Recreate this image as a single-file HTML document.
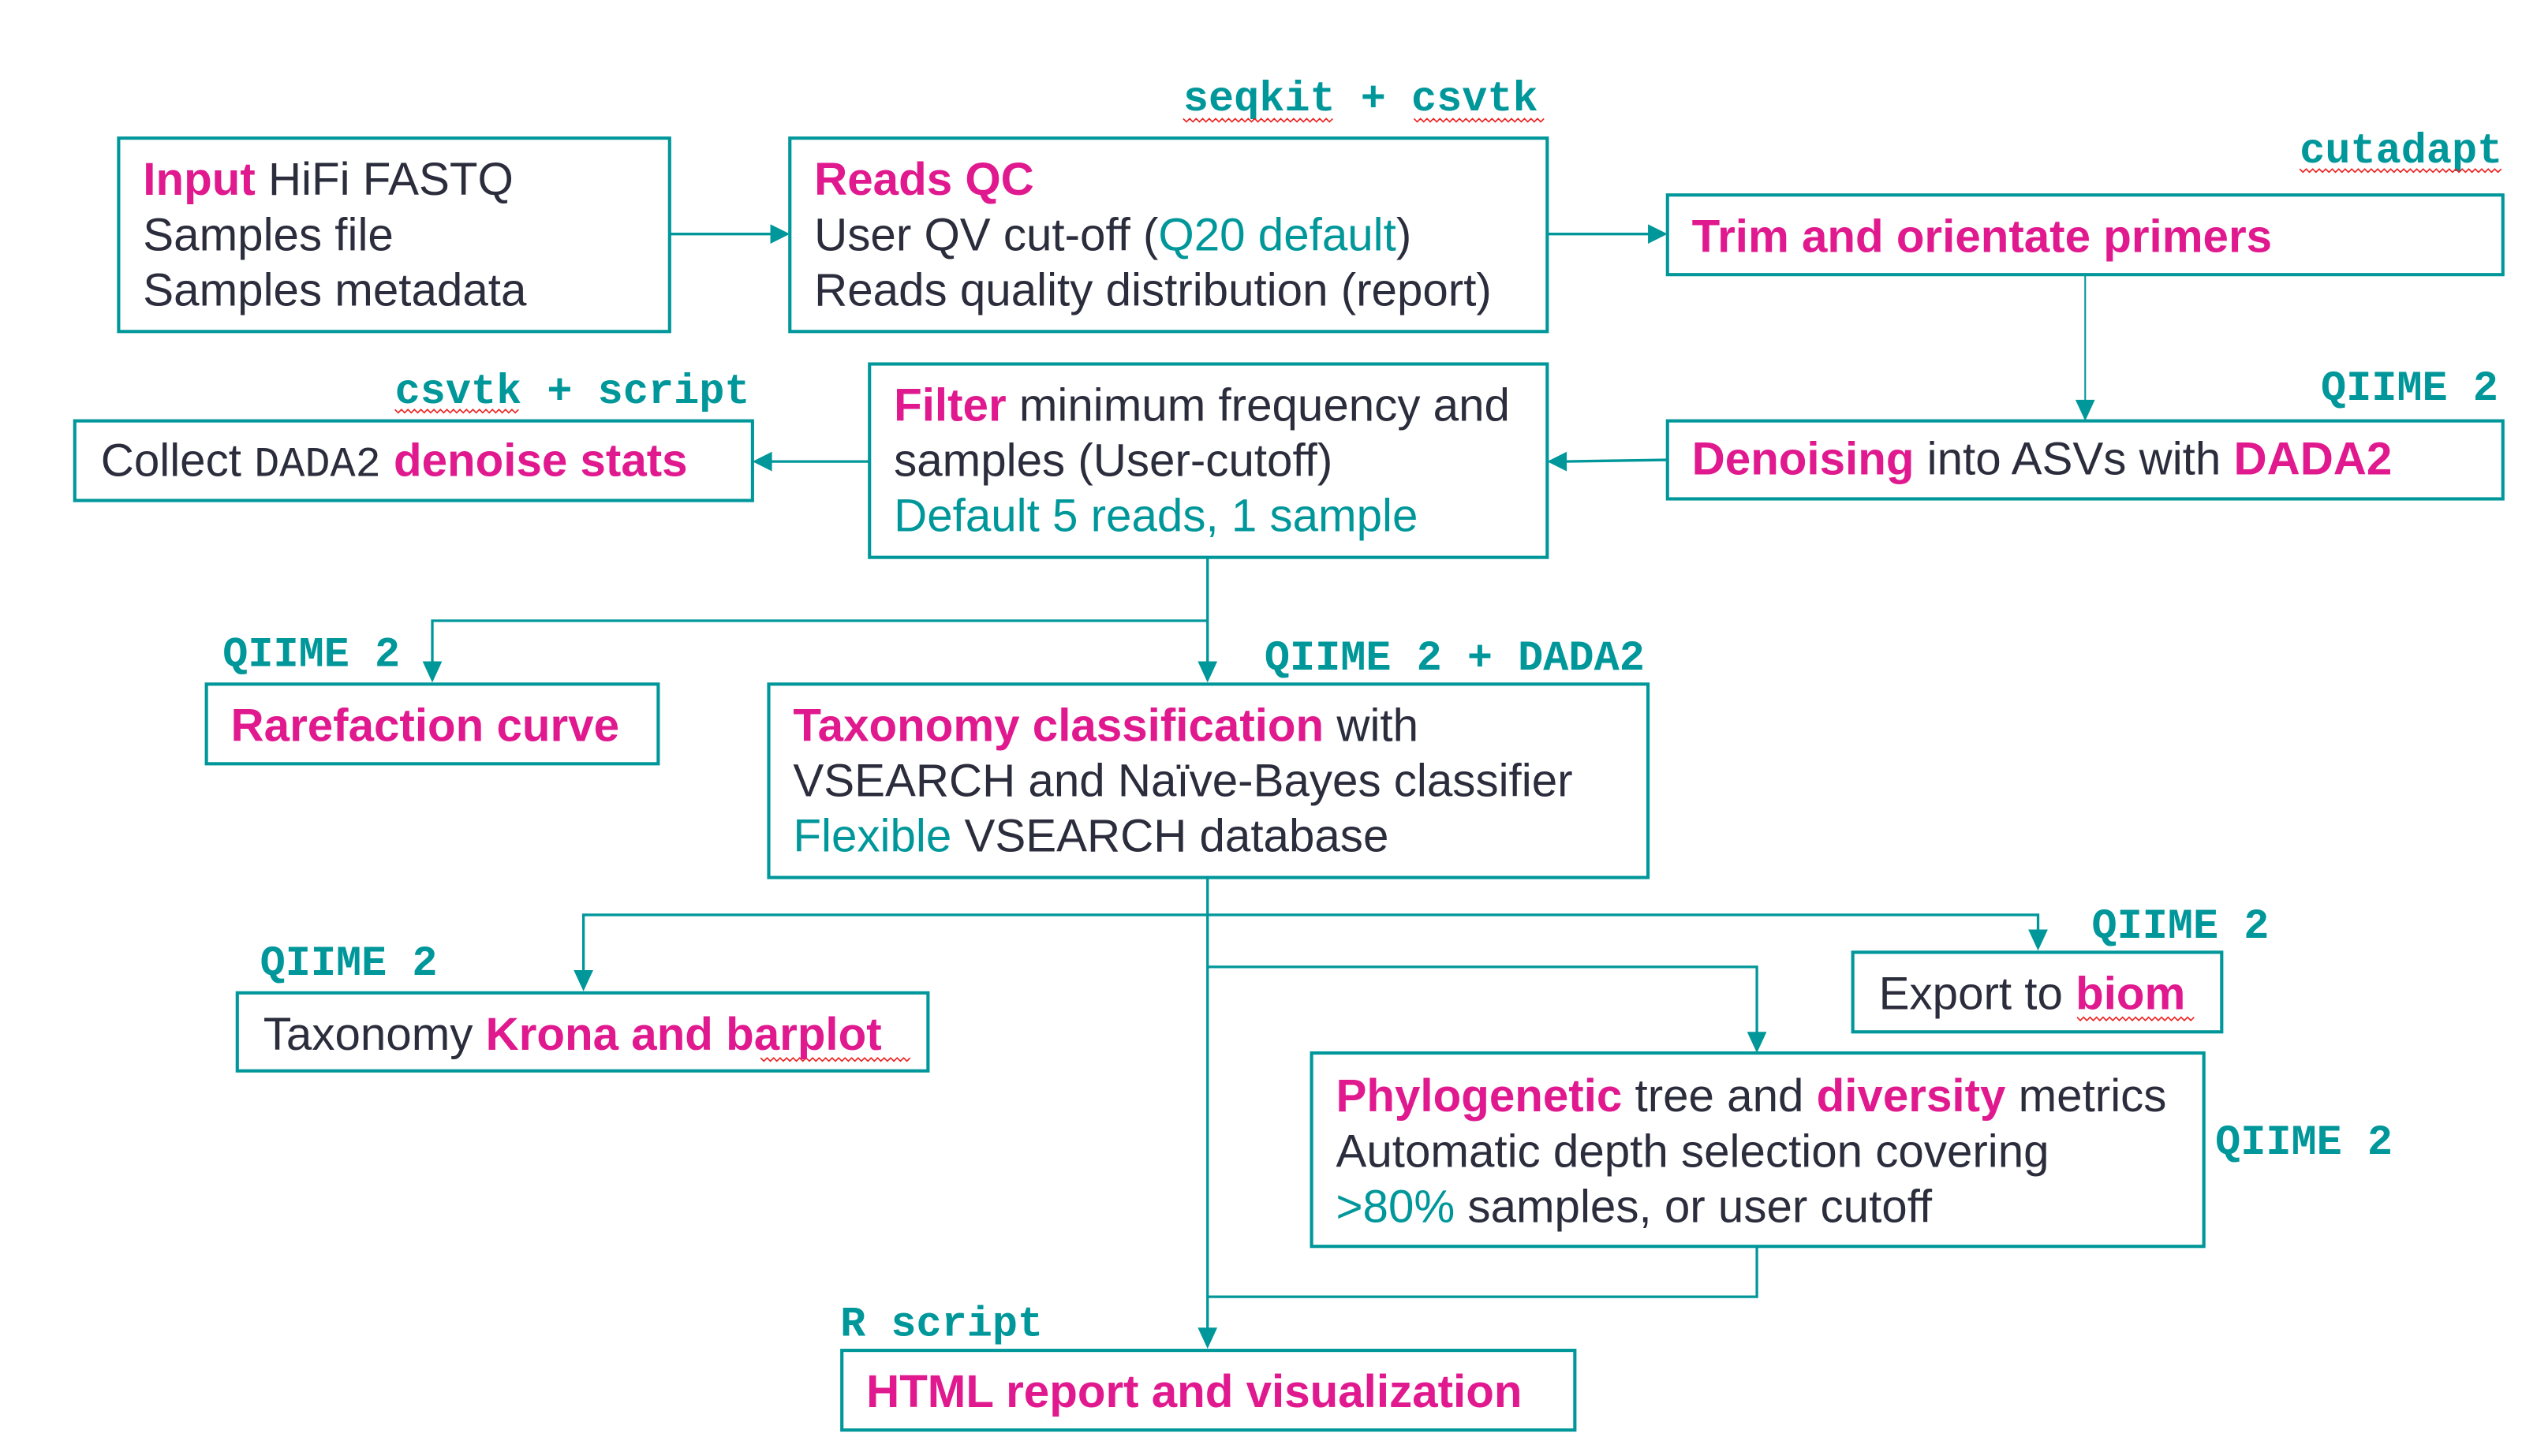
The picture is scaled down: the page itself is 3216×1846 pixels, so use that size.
<!DOCTYPE html>
<html><head><meta charset="utf-8"><style>
html,body{margin:0;padding:0;background:#fff;}
svg{display:block}
.t{font-family:"Liberation Sans",Arial,sans-serif;font-size:28.3px;fill:#2B2D3C}
.m{fill:#E0198F;font-weight:bold}
.c{fill:#00979A}
.mono{font-family:"Liberation Mono",monospace;font-weight:bold;font-size:26px;fill:#00979A}
.b{fill:#fff;stroke:#00979A;stroke-width:2}
.l{stroke:#00979A;stroke-width:1.6;fill:none}
.a{fill:#00979A}
.w{fill:none;stroke:#e22;stroke-width:0.8}
</style></head><body>
<svg width="3216" height="1846" viewBox="0 0 1561 896" preserveAspectRatio="none" xmlns="http://www.w3.org/2000/svg">
<rect class="b" x="73" y="85" width="339" height="119"/>
<rect class="b" x="486" y="85" width="466" height="119"/>
<rect class="b" x="1026" y="120" width="514" height="49"/>
<rect class="b" x="1026" y="259" width="514" height="48"/>
<rect class="b" x="535" y="224" width="417" height="119"/>
<rect class="b" x="46" y="259" width="417" height="49"/>
<rect class="b" x="127" y="421" width="278" height="49"/>
<rect class="b" x="473" y="421" width="541" height="119"/>
<rect class="b" x="146" y="611" width="425" height="48"/>
<rect class="b" x="1140" y="586" width="227" height="49"/>
<rect class="b" x="807" y="648" width="549" height="119"/>
<rect class="b" x="518" y="831" width="451" height="49"/>

<line class="l" x1="412" y1="144" x2="476" y2="144"/><polygon class="a" points="486,144 474,138 474,150"/>
<line class="l" x1="952" y1="144" x2="1016" y2="144"/><polygon class="a" points="1026,144 1014,138 1014,150"/>
<line class="l" x1="1283" y1="169" x2="1283" y2="249" style="stroke-width:1"/><polygon class="a" points="1283,259 1277,246 1289,246"/>
<line class="l" x1="1026" y1="283" x2="962" y2="284"/><polygon class="a" points="952,284 964,278 964,290"/>
<line class="l" x1="535" y1="284" x2="473" y2="284"/><polygon class="a" points="463,284 475,278 475,290"/>
<line class="l" x1="743" y1="343" x2="743" y2="410"/><polygon class="a" points="743,420 737,407 749,407"/>
<polyline class="l" points="743,382 266,382 266,410"/><polygon class="a" points="266,420 260,407 272,407"/>
<line class="l" x1="743" y1="540" x2="743" y2="820"/><polygon class="a" points="743,830 737,817 749,817"/>
<polyline class="l" points="743,563 359,563 359,600"/><polygon class="a" points="359,610 353,597 365,597"/>
<polyline class="l" points="743,563 1254,563 1254,575"/><polygon class="a" points="1254,585 1248,572 1260,572"/>
<polyline class="l" points="743,595 1081,595 1081,638"/><polygon class="a" points="1081,648 1075,635 1087,635"/>
<polyline class="l" points="1081,767 1081,798 743,798"/>

<text class="mono" x="728" y="68">seqkit + csvtk</text>
<text class="mono" x="1415" y="100">cutadapt</text>
<text class="mono" x="1428" y="246">QIIME 2</text>
<text class="mono" x="243" y="248">csvtk + script</text>
<text class="mono" x="137" y="410">QIIME 2</text>
<text class="mono" x="778" y="412">QIIME 2 + DADA2</text>
<text class="mono" x="160" y="600">QIIME 2</text>
<text class="mono" x="1287" y="577">QIIME 2</text>
<text class="mono" x="1363" y="710">QIIME 2</text>
<text class="mono" x="517" y="822">R script</text>

<path class="w" d="M728 73 l2 2 l2 -2 l2 2 l2 -2 l2 2 l2 -2 l2 2 l2 -2 l2 2 l2 -2 l2 2 l2 -2 l2 2 l2 -2 l2 2 l2 -2 l2 2 l2 -2 l2 2 l2 -2 l2 2 l2 -2 l2 2 l2 -2 l2 2 l2 -2 l2 2 l2 -2 l2 2 l2 -2 l2 2 l2 -2 l2 2 l2 -2 l2 2 l2 -2 l2 2 l2 -2 l2 2 l2 -2 l2 2 l2 -2 l2 2 l2 -2 l2 2 l2 -2"/>
<path class="w" d="M870 73 l2 2 l2 -2 l2 2 l2 -2 l2 2 l2 -2 l2 2 l2 -2 l2 2 l2 -2 l2 2 l2 -2 l2 2 l2 -2 l2 2 l2 -2 l2 2 l2 -2 l2 2 l2 -2 l2 2 l2 -2 l2 2 l2 -2 l2 2 l2 -2 l2 2 l2 -2 l2 2 l2 -2 l2 2 l2 -2 l2 2 l2 -2 l2 2 l2 -2 l2 2 l2 -2 l2 2 l2 -2"/>
<path class="w" d="M1415 104 l2 2 l2 -2 l2 2 l2 -2 l2 2 l2 -2 l2 2 l2 -2 l2 2 l2 -2 l2 2 l2 -2 l2 2 l2 -2 l2 2 l2 -2 l2 2 l2 -2 l2 2 l2 -2 l2 2 l2 -2 l2 2 l2 -2 l2 2 l2 -2 l2 2 l2 -2 l2 2 l2 -2 l2 2 l2 -2 l2 2 l2 -2 l2 2 l2 -2 l2 2 l2 -2 l2 2 l2 -2 l2 2 l2 -2 l2 2 l2 -2 l2 2 l2 -2 l2 2 l2 -2 l2 2 l2 -2 l2 2 l2 -2 l2 2 l2 -2 l2 2 l2 -2 l2 2 l2 -2 l2 2 l2 -2 l2 2 l2 -2"/>
<path class="w" d="M243 252 l2 2 l2 -2 l2 2 l2 -2 l2 2 l2 -2 l2 2 l2 -2 l2 2 l2 -2 l2 2 l2 -2 l2 2 l2 -2 l2 2 l2 -2 l2 2 l2 -2 l2 2 l2 -2 l2 2 l2 -2 l2 2 l2 -2 l2 2 l2 -2 l2 2 l2 -2 l2 2 l2 -2 l2 2 l2 -2 l2 2 l2 -2 l2 2 l2 -2 l2 2 l2 -2"/>
<path class="w" d="M1278 626 l2 2 l2 -2 l2 2 l2 -2 l2 2 l2 -2 l2 2 l2 -2 l2 2 l2 -2 l2 2 l2 -2 l2 2 l2 -2 l2 2 l2 -2 l2 2 l2 -2 l2 2 l2 -2 l2 2 l2 -2 l2 2 l2 -2 l2 2 l2 -2 l2 2 l2 -2 l2 2 l2 -2 l2 2 l2 -2 l2 2 l2 -2 l2 2 l2 -2"/>
<path class="w" d="M468 651 l2 2 l2 -2 l2 2 l2 -2 l2 2 l2 -2 l2 2 l2 -2 l2 2 l2 -2 l2 2 l2 -2 l2 2 l2 -2 l2 2 l2 -2 l2 2 l2 -2 l2 2 l2 -2 l2 2 l2 -2 l2 2 l2 -2 l2 2 l2 -2 l2 2 l2 -2 l2 2 l2 -2 l2 2 l2 -2 l2 2 l2 -2 l2 2 l2 -2 l2 2 l2 -2 l2 2 l2 -2 l2 2 l2 -2 l2 2 l2 -2 l2 2 l2 -2"/>

<text class="t" x="88" y="120"><tspan class="m">Input</tspan> HiFi FASTQ</text>
<text class="t" x="88" y="154">Samples file</text>
<text class="t" x="88" y="188">Samples metadata</text>

<text class="t" x="501" y="120"><tspan class="m">Reads QC</tspan></text>
<text class="t" x="501" y="154">User QV cut-off (<tspan class="c">Q20 default</tspan>)</text>
<text class="t" x="501" y="188">Reads quality distribution (report)</text>

<text class="t" x="1041" y="155"><tspan class="m">Trim and orientate primers</tspan></text>
<text class="t" x="1041" y="292"><tspan class="m">Denoising</tspan> into ASVs with <tspan class="m">DADA2</tspan></text>

<text class="t" x="550" y="259"><tspan class="m">Filter</tspan> minimum frequency and</text>
<text class="t" x="550" y="293">samples (User-cutoff)</text>
<text class="t c" x="550" y="327">Default 5 reads, 1 sample</text>

<text class="t" x="62" y="293">Collect <tspan style="font-family:'Liberation Mono',monospace;font-size:26px">DADA2</tspan> <tspan class="m">denoise stats</tspan></text>

<text class="t" x="142" y="456"><tspan class="m">Rarefaction curve</tspan></text>

<text class="t" x="488" y="456"><tspan class="m">Taxonomy classification</tspan> with</text>
<text class="t" x="488" y="490">VSEARCH and Naïve-Bayes classifier</text>
<text class="t" x="488" y="524"><tspan class="c">Flexible</tspan> VSEARCH database</text>

<text class="t" x="162" y="646">Taxonomy <tspan class="m">Krona and barplot</tspan></text>
<text class="t" x="1156" y="621">Export to <tspan class="m">biom</tspan></text>

<text class="t" x="822" y="684"><tspan class="m">Phylogenetic</tspan> tree and <tspan class="m">diversity</tspan> metrics</text>
<text class="t" x="822" y="718">Automatic depth selection covering</text>
<text class="t" x="822" y="752"><tspan class="c">&gt;80%</tspan> samples, or user cutoff</text>

<text class="t" x="533" y="866"><tspan class="m">HTML report and visualization</tspan></text>
</svg>
</body></html>
